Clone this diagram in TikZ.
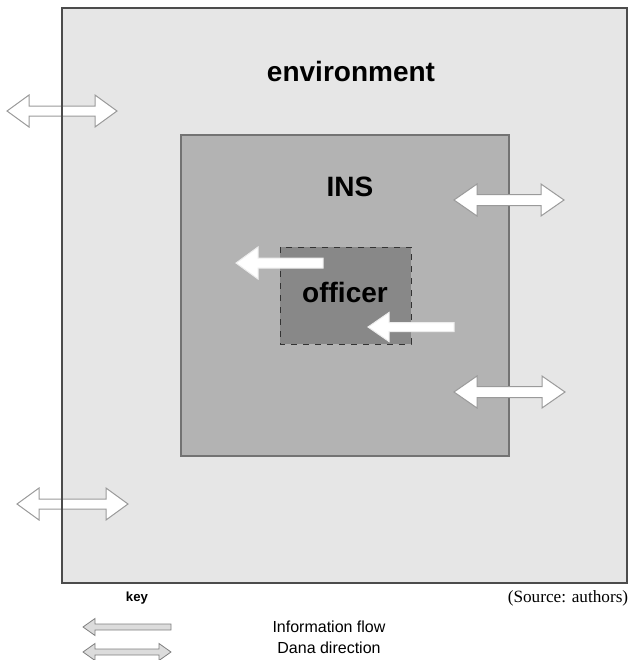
\documentclass[tikz,border=0pt]{standalone}
\usepackage{fontspec}
\setmainfont{Liberation Sans}
\newfontfamily\srcfont{Liberation Serif}
\usetikzlibrary{positioning}
\definecolor{envgray}{HTML}{E6E6E6}
\definecolor{insgray}{HTML}{B3B3B3}
\definecolor{offgray}{HTML}{888888}
\definecolor{arrline}{HTML}{9A9A9A}
\definecolor{keygray}{HTML}{DCDCDC}
\tikzset{every picture/.style={line width=0.5pt}}
\tikzstyle{bigarr}=[draw=arrline,fill=white,line width=0.5pt]
\tikzstyle{keyarr}=[draw=gray,fill=keygray,line width=0.4pt]
\tikzstyle{lbl}=[inner sep=0pt,font=\bfseries\fontsize{14}{16}\selectfont]
% #1 style, #2 left tip, #3 right tip, #4 y, #5 head length, #6 half head, #7 half shaft
\newcommand{\dblarr}[7]{%
\draw[#1] (#2,#4) -- ++(#5,-#6) -- ++(0,#6-#7) -- (#3-#5,#4-#7) -- ++(0,#7-#6)
 -- (#3,#4) -- ++(-#5,#6) -- ++(0,#7-#6) -- (#2+#5,#4+#7) -- ++(0,#6-#7) -- cycle;}
% #1 style, #2 tip, #3 tail, #4 y, #5 head length, #6 half head, #7 half shaft
\newcommand{\sglarr}[7]{%
\draw[#1] (#2,#4) -- ++(#5,-#6) -- ++(0,#6-#7) -- (#3,#4-#7) -- (#3,#4+#7)
 -- (#2+#5,#4+#7) -- ++(0,#6-#7) -- cycle;}

\begin{document}
\begin{tikzpicture}[x=0.5pt,y=-0.5pt]
\useasboundingbox (0,0) rectangle (629,660);
\fill[envgray] (62,8) rectangle (627,583);
\dblarr{bigarr}{7}{117}{111}{22}{16}{5}
\dblarr{bigarr}{17}{128}{504}{22}{16}{5}
\draw[black!70,line width=0.75pt] (62,8) rectangle (627,583);
\draw[black!55,fill=insgray,line width=0.6pt] (181,135) rectangle (509,456);
\draw[black!80,fill=offgray,dashed,line width=0.5pt] (280,247) rectangle (411,344);
\dblarr{bigarr}{454}{564}{200}{23}{16}{5.5}
\dblarr{bigarr}{454}{565}{392}{23}{16}{5.5}
\sglarr{bigarr,draw=white!85!gray}{236}{323}{263}{22}{16}{5}
\sglarr{bigarr,draw=white!85!gray}{368}{454}{327}{21}{14.5}{4.5}
\node[lbl] (E) at (351,71) {environment};
\node[lbl] (I) at (350,187) {INS};
\node[lbl] (O) at (345,292) {officer};
% key
\node[inner sep=0pt,font=\bfseries\fontsize{6.6}{8}\selectfont] (K) at (137,598) {key};
\sglarr{keyarr}{83}{171}{627}{12}{8.5}{3}
\dblarr{keyarr}{83}{171}{652}{12}{8.5}{3}
\node[inner sep=0pt,font=\fontsize{8}{10}\selectfont] (F) at (329,627) {Information flow};
\node[inner sep=0pt,font=\fontsize{8}{10}\selectfont] (D) at (329,648) {Dana direction};
\node[inner sep=0pt,font=\srcfont\fontsize{8.6}{10}\selectfont] (S) at (568,598) {(Source: authors)};
\end{tikzpicture}
\end{document}
